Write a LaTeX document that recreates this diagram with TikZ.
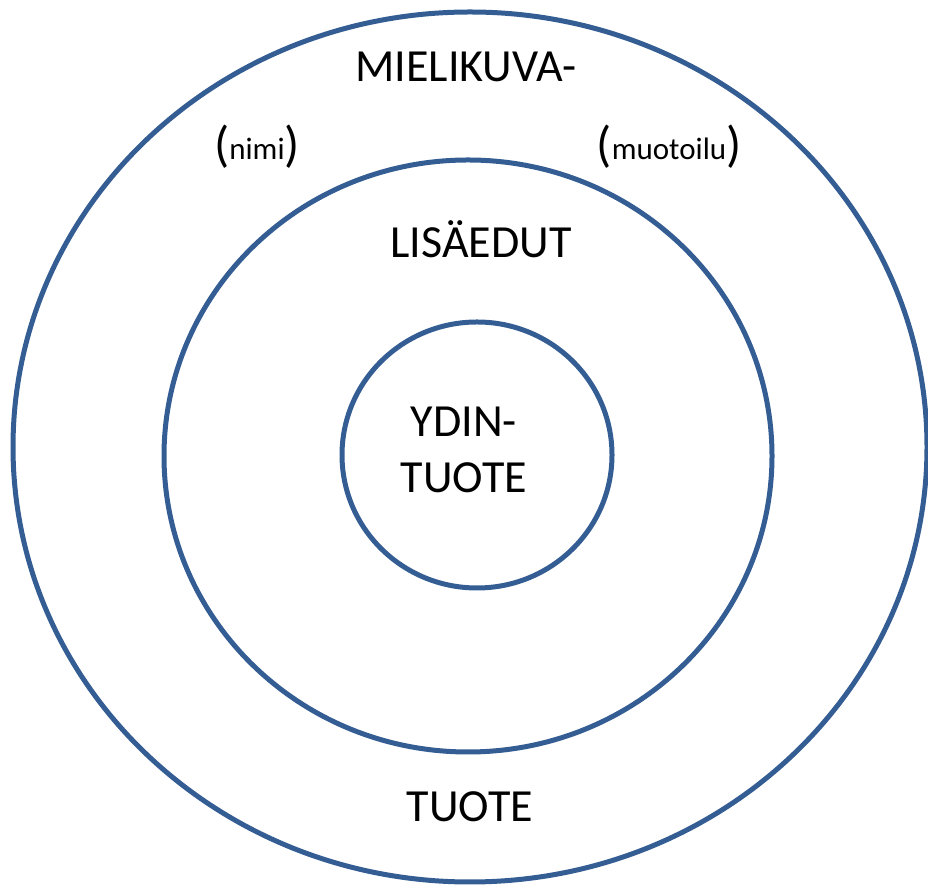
\documentclass[tikz,border=0pt]{standalone}
\usepackage{fontspec}
\setmainfont{Carlito}
\usetikzlibrary{shapes.geometric}
\definecolor{ringblue}{RGB}{52,93,148}
\tikzset{
  ring/.style={draw=ringblue, line width=5pt, ellipse, inner sep=0pt, outer sep=0pt},
  bigtext/.style={font=\fontsize{46}{56}\selectfont, anchor=base, inner sep=0pt, text=black},
  smalltext/.style={anchor=base, inner sep=0pt, text=black}
}
\newcommand{\bigpar}[1]{{\fontsize{50}{56}\selectfont\raisebox{-2pt}{#1}}}
\newcommand{\smallword}[1]{{\fontsize{31}{36}\selectfont #1}}
\begin{document}
\begin{tikzpicture}[x=1pt,y=1pt]
\useasboundingbox (0,0) rectangle (928,885);
\node[ring, minimum width=914pt, minimum height=870pt] (outer) at (470,438) {};
\node[ring, minimum width=608pt, minimum height=592pt] (middle) at (468,429) {};
\node[ring, minimum width=270pt, minimum height=266pt] (inner) at (477,430) {};
\node[bigtext] (mieli) at (466,803) {MIELIKUVA-};
\node[smalltext] (nimi) at (257,725) {\bigpar{(}\smallword{nimi}\bigpar{)}};
\node[smalltext] (muoto) at (669,725) {\bigpar{(}\smallword{muotoilu}\bigpar{)}};
\node[bigtext] (lisa) at (481,627) {LISÄEDUT};
\node[bigtext] (ydin) at (464,448) {YDIN-};
\node[bigtext] (ytuote) at (464,392) {TUOTE};
\node[bigtext] (tuote) at (470,63) {TUOTE};
\end{tikzpicture}
\end{document}
